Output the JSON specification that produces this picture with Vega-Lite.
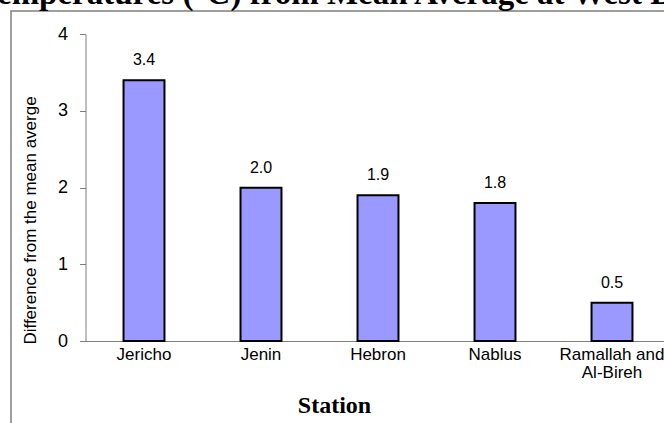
{
  "$schema": "https://vega.github.io/schema/vega-lite/v6.json",
  "autosize": {"type": "none"},
  "padding": {"left": 11, "top": 11, "right": -2, "bottom": -2},
  "width": 655,
  "height": 414,
  "background": "white",
  "title": {
    "text": "Temperatures (°C) from Mean Average at West Bank",
    "anchor": "start",
    "frame": "group",
    "dx": -33,
    "dy": 26,
    "offset": 0,
    "font": "Liberation Serif",
    "fontSize": 33,
    "fontWeight": "bold",
    "color": "black",
    "baseline": "alphabetic"
  },
  "config": {
    "view": {"stroke": "#7f7f7f", "strokeWidth": 1.5}
  },
  "data": {
    "values": [
      {"station": "Jericho", "diff": 3.4},
      {"station": "Jenin", "diff": 2.0},
      {"station": "Hebron", "diff": 1.9},
      {"station": "Nablus", "diff": 1.8},
      {"station": "Ramallah and Al-Bireh", "diff": 0.5}
    ]
  },
  "encoding": {
    "x": {
      "field": "station",
      "type": "nominal",
      "sort": null,
      "scale": {"range": [74.5, 659.5], "paddingInner": 0.65, "paddingOuter": 0.325},
      "axis": {
        "title": "Station",
        "offset": -84,
        "ticks": false,
        "tickSize": 0,
        "labelPadding": 5,
        "labelAngle": 0,
        "labelFont": "Liberation Sans",
        "labelFontSize": 17,
        "labelColor": "black",
        "labelLineHeight": 18,
        "labelOverlap": false,
        "labelExpr": "datum.value == 'Ramallah and Al-Bireh' ? ['Ramallah and', 'Al-Bireh'] : datum.value",
        "domainColor": "#7f7f7f",
        "domainWidth": 1,
        "titleFont": "Liberation Serif",
        "titleFontSize": 24,
        "titleFontWeight": "bold",
        "titleColor": "black",
        "titleX": 323,
        "titleY": 71,
        "titleBaseline": "alphabetic"
      }
    },
    "y": {
      "field": "diff",
      "type": "quantitative",
      "scale": {"domain": [0, 4], "range": [330, 23.3], "nice": false, "zero": true},
      "axis": {
        "title": "Difference from the mean averge",
        "offset": -74.5,
        "values": [0, 1, 2, 3, 4],
        "format": "d",
        "grid": false,
        "tickSize": 6,
        "tickColor": "#7f7f7f",
        "domainColor": "#7f7f7f",
        "labelFont": "Liberation Sans",
        "labelFontSize": 18,
        "labelColor": "black",
        "labelPadding": 12,
        "titleFont": "Liberation Sans",
        "titleFontSize": 17,
        "titleFontWeight": "normal",
        "titleColor": "black",
        "titlePadding": 18,
        "titleY": 209
      }
    }
  },
  "layer": [
    {"mark": {"type": "bar", "fill": "#9999ff", "stroke": "black", "strokeWidth": 2}},
    {
      "mark": {"type": "text", "baseline": "alphabetic", "dy": -15, "font": "Liberation Sans", "fontSize": 16, "color": "black"},
      "encoding": {"text": {"field": "diff", "type": "quantitative", "format": ".1f"}}
    }
  ]
}
